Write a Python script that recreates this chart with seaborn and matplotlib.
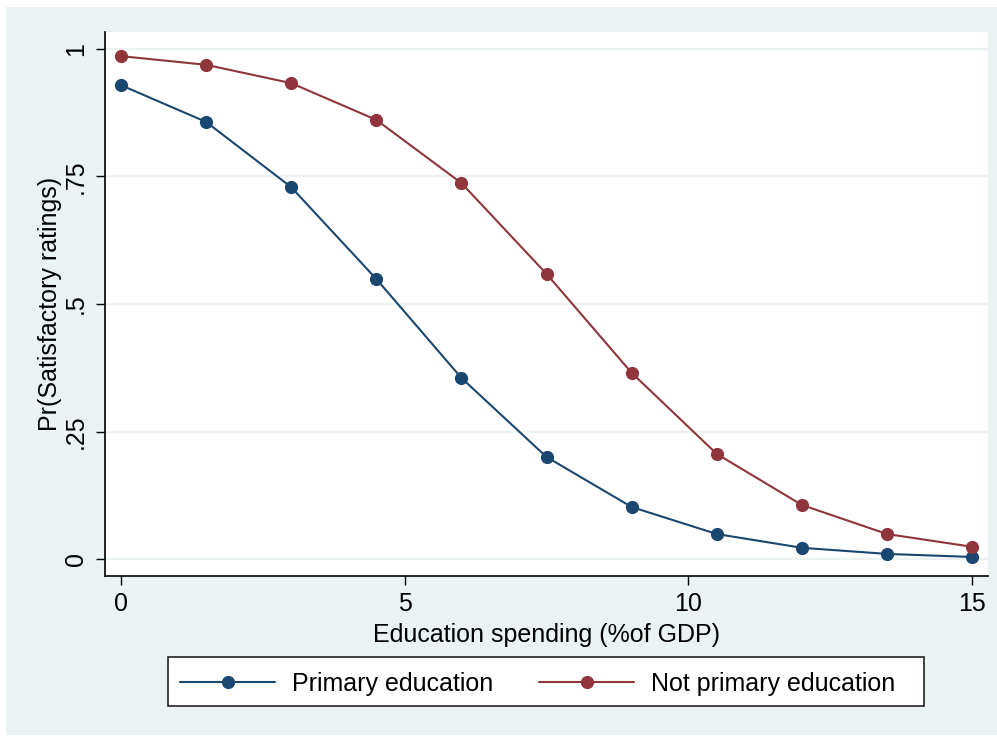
import matplotlib
matplotlib.use("Agg")
import matplotlib.pyplot as plt
from matplotlib.patches import Rectangle
import seaborn as sns
import pandas as pd

# Predicted probabilities by education spending
spending = [0, 1.5, 3, 4.5, 6, 7.5, 9, 10.5, 12, 13.5, 15]
primary = [0.929, 0.857, 0.729, 0.549, 0.355, 0.200, 0.102, 0.049, 0.022, 0.010, 0.004]
not_primary = [0.986, 0.969, 0.933, 0.861, 0.737, 0.559, 0.365, 0.206, 0.106, 0.049, 0.024]
series_names = ["Primary education", "Not primary education"]
y_ticks = [0, 0.25, 0.5, 0.75, 1]
y_tick_labels = ["0", ".25", ".5", ".75", "1"]
x_ticks = [0, 5, 10, 15]

df = pd.concat([
    pd.DataFrame({"spend": spending, "pr": primary, "group": series_names[0]}),
    pd.DataFrame({"spend": spending, "pr": not_primary, "group": series_names[1]}),
])

sns.set_style("white")
plt.rcParams["font.family"] = ["Liberation Sans", "DejaVu Sans"]
plt.rcParams["text.color"] = "black"
plt.rcParams["axes.labelcolor"] = "black"
plt.rcParams["xtick.color"] = "black"
plt.rcParams["ytick.color"] = "black"

W, H = 997, 736
FS = 18
fig = plt.figure(figsize=(W / 100, H / 100), dpi=100)
fig.patch.set_facecolor("white")
bg = "#EAF2F3"
# outer graph region
fig.add_artist(Rectangle((6 / W, 1 - 735 / H), (W - 6) / W, (735 - 7) / H,
                         transform=fig.transFigure, facecolor=bg,
                         edgecolor="none", zorder=-10))

ax = fig.add_axes([105 / W, 1 - 576 / H, 883 / W, 544 / H])
ax.set_facecolor("white")

palette = {series_names[0]: "#1A476F", series_names[1]: "#90353B"}
sns.lineplot(data=df, x="spend", y="pr", hue="group", palette=palette,
             marker="o", markersize=9.5, markeredgewidth=0, linewidth=1.5,
             ax=ax, legend=False, zorder=3)

ax.set_xlim(-0.282, 15.28)
ax.set_ylim(-0.0333, 1.0333)
ax.set_yticks(y_ticks)
ax.set_yticklabels(y_tick_labels, rotation=90, va="center")
ax.set_xticks(x_ticks)
ax.set_xticklabels([str(v) for v in x_ticks])
ax.tick_params(axis="both", direction="out", length=6.5, width=1,
               labelsize=FS, left=True, bottom=True)
ax.tick_params(axis="y", pad=6)
ax.tick_params(axis="x", pad=5)

for y in y_ticks:
    ax.axhline(y, color=bg, linewidth=1.6, zorder=1)

for s in ["top", "right"]:
    ax.spines[s].set_visible(False)
for s in ["left", "bottom"]:
    ax.spines[s].set_color("black")
    ax.spines[s].set_linewidth(1.2)

ax.set_xlabel("Education spending (%of GDP)", fontsize=FS, labelpad=5)
ax.set_ylabel("Pr(Satisfactory ratings)", fontsize=FS, labelpad=1)

# legend box
fig.add_artist(Rectangle((168 / W, 1 - 706 / H), 756 / W, 49 / H,
                         transform=fig.transFigure, facecolor="white",
                         edgecolor="#222222", linewidth=1.2, zorder=2))
handles = [
    plt.Line2D([], [], color=palette[n], marker="o", markersize=9.5,
               markeredgewidth=0, linewidth=1.5) for n in series_names
]
leg = fig.legend(handles, series_names, loc="center left", ncol=2,
                 bbox_to_anchor=(180 / W, 1 - 684 / H),
                 bbox_transform=fig.transFigure, borderaxespad=0, borderpad=0,
                 numpoints=1, handlelength=3.8, handletextpad=0.68,
                 columnspacing=1.84, fontsize=FS, frameon=False)
leg.set_zorder(3)

fig.savefig("out.png", dpi=100)
